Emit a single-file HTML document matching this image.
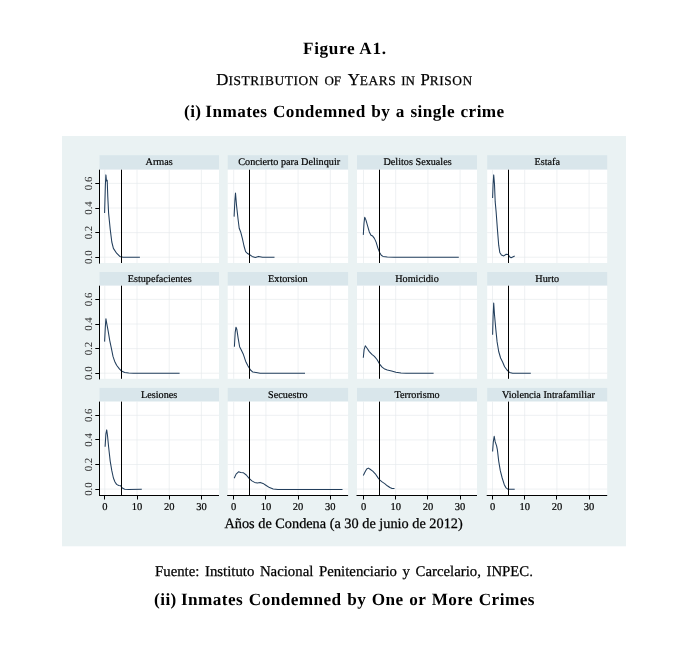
<!DOCTYPE html>
<html><head><meta charset="utf-8"><title>Figure A1</title>
<style>
html,body{margin:0;padding:0;background:#fff;}
body{width:700px;height:655px;overflow:hidden;position:relative;font-family:"Liberation Serif",serif;color:#000;text-rendering:geometricPrecision;}
.t{position:absolute;white-space:nowrap;line-height:1;}
svg{position:absolute;left:0;top:0;will-change:transform;}
.t,#t2{will-change:transform;}
svg text{font-family:"Liberation Serif",serif;text-rendering:geometricPrecision;}
svg g text{stroke:#000;stroke-width:0.2px;}
</style></head><body>
<div class="t" id="t1" style="top:40.1px;font-size:17.2px;font-weight:bold;left:302.8px;letter-spacing:0.66px;">Figure A1.</div>
<div id="t2" style="position:absolute;left:0;top:69.5px;width:700px;height:20px;white-space:nowrap;-webkit-text-stroke:0.25px #000;"><span id="w1" style="position:absolute;left:216.3px;top:0;font-size:16.8px;line-height:20px;">D<span style="font-size:13.4px;letter-spacing:0.60px">ISTRIBUTION</span></span><span id="w2" style="position:absolute;left:324.4px;top:0;font-size:16.8px;line-height:20px;"><span style="font-size:13.0px;letter-spacing:0.00px">OF</span></span><span id="w3" style="position:absolute;left:347.7px;top:0;font-size:16.8px;line-height:20px;">Y<span style="font-size:13.4px;letter-spacing:0.52px">EARS</span></span><span id="w4" style="position:absolute;left:401.2px;top:0;font-size:16.8px;line-height:20px;"><span style="font-size:13.0px;letter-spacing:0.00px">IN</span></span><span id="w5" style="position:absolute;left:420.4px;top:0;font-size:16.8px;line-height:20px;">P<span style="font-size:13.4px;letter-spacing:0.58px">RISON</span></span></div>
<div class="t" id="t3" style="top:102.9px;font-size:17.2px;font-weight:bold;left:184.1px;letter-spacing:0.42px;word-spacing:0.87px;"><span style="word-spacing:-0.9px">(i) </span>Inmates Condemned by a single crime</div>
<div class="t" id="t4" style="top:564.7px;font-size:14.8px;left:155.0px;word-spacing:1.9px;-webkit-text-stroke:0.25px #000;">Fuente: Instituto Nacional Penitenciario y Carcelario, INPEC.</div>
<div class="t" id="t5" style="top:591.2px;font-size:17.2px;font-weight:bold;left:153.8px;letter-spacing:0.44px;word-spacing:0.86px;"><span style="word-spacing:-0.6px">(ii) </span>Inmates Condemned by One or More Crimes</div>
<svg width="700" height="655" viewBox="0 0 700 655">
<rect x="62" y="136" width="564" height="410.29999999999995" fill="#eaf2f3"/>
<g>
<rect x="99.5" y="155.2" width="119.5" height="14.5" fill="#d9e6eb"/>
<rect x="99.5" y="169.7" width="119.5" height="93.3" fill="#fff"/>
<path d="M104.8 169.7V263.0M137.0 169.7V263.0M169.2 169.7V263.0M201.4 169.7V263.0M99.5 257.2H219.0M99.5 232.6H219.0M99.5 208.0H219.0M99.5 183.4H219.0" stroke="#e4eaed" stroke-width="0.65" fill="none"/>
<text x="159.2" y="165.2" font-size="10.2" text-anchor="middle" fill="#000">Armas</text>
<path d="M104.6 213.1 L105.4 184.2 L105.9 174.9 L106.5 181.0 L107.2 180.2 L107.8 197.1 L108.6 213.1 L110.2 229.1 L111.8 242.0 L113.4 248.4 L116.6 253.2 L119.8 256.4 L123.1 257.2 L139.9 257.2" stroke="#223e5c" stroke-width="1.05" fill="none" stroke-linejoin="round"/>
<path d="M121.5 169.7V263.0" stroke="#000" stroke-width="1"/>
<text transform="translate(91.9 257.2) rotate(-90)" font-size="10.8" text-anchor="middle" fill="#2a2a2a" style="stroke:none">0.0</text>
<text transform="translate(91.9 232.6) rotate(-90)" font-size="10.8" text-anchor="middle" fill="#2a2a2a" style="stroke:none">0.2</text>
<text transform="translate(91.9 208.0) rotate(-90)" font-size="10.8" text-anchor="middle" fill="#2a2a2a" style="stroke:none">0.4</text>
<text transform="translate(91.9 183.4) rotate(-90)" font-size="10.8" text-anchor="middle" fill="#2a2a2a" style="stroke:none">0.6</text>
<path d="M99.5 169.7V263.6M95.3 257.5H99.5M95.3 232.5H99.5M95.3 208.5H99.5M95.3 183.5H99.5" stroke="#000" stroke-width="1" fill="none"/>
</g>
<g>
<rect x="227.7" y="155.2" width="120.4" height="14.5" fill="#d9e6eb"/>
<rect x="227.7" y="169.7" width="120.4" height="93.3" fill="#fff"/>
<path d="M233.7 169.7V263.0M265.9 169.7V263.0M298.1 169.7V263.0M330.3 169.7V263.0M227.7 257.2H348.1M227.7 232.6H348.1M227.7 208.0H348.1M227.7 183.4H348.1" stroke="#e4eaed" stroke-width="0.65" fill="none"/>
<text x="289.2" y="165.2" font-size="10.2" text-anchor="middle" fill="#000">Concierto para Delinquir</text>
<path d="M234.1 216.6 L234.9 200.3 L235.5 193.1 L236.5 205.1 L238.1 219.5 L239.2 228.3 L240.8 232.3 L242.4 238.7 L244.0 246.0 L245.6 251.6 L247.2 253.2 L249.7 254.8 L252.1 256.4 L255.3 257.5 L258.5 256.4 L262.5 257.2 L274.5 257.2" stroke="#223e5c" stroke-width="1.05" fill="none" stroke-linejoin="round"/>
<path d="M249.5 169.7V263.0" stroke="#000" stroke-width="1"/>
</g>
<g>
<rect x="357.0" y="155.2" width="120.0" height="14.5" fill="#d9e6eb"/>
<rect x="357.0" y="169.7" width="120.0" height="93.3" fill="#fff"/>
<path d="M363.5 169.7V263.0M395.7 169.7V263.0M427.9 169.7V263.0M460.1 169.7V263.0M357.0 257.2H477.0M357.0 232.6H477.0M357.0 208.0H477.0M357.0 183.4H477.0" stroke="#e4eaed" stroke-width="0.65" fill="none"/>
<text x="417.6" y="165.2" font-size="10.2" text-anchor="middle" fill="#000">Delitos Sexuales</text>
<path d="M363.3 234.9 L364.0 223.3 L364.7 217.3 L365.9 219.9 L367.6 225.9 L369.3 231.9 L371.0 235.3 L372.7 236.1 L374.4 238.4 L376.1 242.1 L377.9 248.1 L379.6 252.4 L381.3 255.3 L383.0 256.4 L387.3 256.9 L394.1 257.2 L458.8 257.2" stroke="#223e5c" stroke-width="1.05" fill="none" stroke-linejoin="round"/>
<path d="M379.5 169.7V263.0" stroke="#000" stroke-width="1"/>
</g>
<g>
<rect x="487.2" y="155.2" width="120.0" height="14.5" fill="#d9e6eb"/>
<rect x="487.2" y="169.7" width="120.0" height="93.3" fill="#fff"/>
<path d="M492.5 169.7V263.0M524.7 169.7V263.0M556.9 169.7V263.0M589.1 169.7V263.0M487.2 257.2H607.2M487.2 232.6H607.2M487.2 208.0H607.2M487.2 183.4H607.2" stroke="#e4eaed" stroke-width="0.65" fill="none"/>
<text x="547.2" y="165.2" font-size="10.2" text-anchor="middle" fill="#000">Estafa</text>
<path d="M492.6 197.9 L493.1 184.2 L493.7 174.9 L494.5 184.2 L495.2 201.9 L496.1 211.5 L497.4 229.1 L498.7 245.2 L499.8 252.4 L501.4 255.1 L503.8 255.9 L506.2 254.3 L508.3 254.5 L509.5 256.7 L511.1 257.7 L512.7 257.0 L514.7 256.1" stroke="#223e5c" stroke-width="1.05" fill="none" stroke-linejoin="round"/>
<path d="M508.5 169.7V263.0" stroke="#000" stroke-width="1"/>
</g>
<g>
<rect x="99.5" y="272.0" width="119.5" height="13.7" fill="#d9e6eb"/>
<rect x="99.5" y="285.7" width="119.5" height="93.1" fill="#fff"/>
<path d="M104.8 285.7V378.8M137.0 285.7V378.8M169.2 285.7V378.8M201.4 285.7V378.8M99.5 373.2H219.0M99.5 348.6H219.0M99.5 324.0H219.0M99.5 299.4H219.0" stroke="#e4eaed" stroke-width="0.65" fill="none"/>
<text x="159.7" y="282.0" font-size="10.2" text-anchor="middle" fill="#000">Estupefacientes</text>
<path d="M104.6 341.6 L105.3 327.5 L105.9 318.7 L106.9 324.3 L108.1 330.7 L109.7 340.3 L111.4 348.3 L113.0 356.4 L114.6 361.2 L116.6 365.2 L119.0 368.4 L121.5 371.1 L124.7 372.4 L128.7 373.0 L133.5 373.3 L179.6 373.3" stroke="#223e5c" stroke-width="1.05" fill="none" stroke-linejoin="round"/>
<path d="M121.5 285.7V378.8" stroke="#000" stroke-width="1"/>
<text transform="translate(91.9 373.2) rotate(-90)" font-size="10.8" text-anchor="middle" fill="#2a2a2a" style="stroke:none">0.0</text>
<text transform="translate(91.9 348.6) rotate(-90)" font-size="10.8" text-anchor="middle" fill="#2a2a2a" style="stroke:none">0.2</text>
<text transform="translate(91.9 324.0) rotate(-90)" font-size="10.8" text-anchor="middle" fill="#2a2a2a" style="stroke:none">0.4</text>
<text transform="translate(91.9 299.4) rotate(-90)" font-size="10.8" text-anchor="middle" fill="#2a2a2a" style="stroke:none">0.6</text>
<path d="M99.5 285.7V379.4M95.3 373.5H99.5M95.3 348.5H99.5M95.3 324.5H99.5M95.3 299.5H99.5" stroke="#000" stroke-width="1" fill="none"/>
</g>
<g>
<rect x="227.7" y="272.0" width="120.4" height="13.7" fill="#d9e6eb"/>
<rect x="227.7" y="285.7" width="120.4" height="93.1" fill="#fff"/>
<path d="M233.7 285.7V378.8M265.9 285.7V378.8M298.1 285.7V378.8M330.3 285.7V378.8M227.7 373.2H348.1M227.7 348.6H348.1M227.7 324.0H348.1M227.7 299.4H348.1" stroke="#e4eaed" stroke-width="0.65" fill="none"/>
<text x="287.9" y="282.0" font-size="10.2" text-anchor="middle" fill="#000">Extorsion</text>
<path d="M234.4 346.7 L235.2 332.3 L236.0 327.2 L236.8 329.1 L238.1 337.9 L239.6 346.7 L241.3 349.9 L243.2 353.9 L245.6 361.2 L248.0 366.0 L250.5 370.0 L252.9 372.1 L256.1 372.4 L260.1 373.3 L305.0 373.3" stroke="#223e5c" stroke-width="1.05" fill="none" stroke-linejoin="round"/>
<path d="M249.5 285.7V378.8" stroke="#000" stroke-width="1"/>
</g>
<g>
<rect x="357.0" y="272.0" width="120.0" height="13.7" fill="#d9e6eb"/>
<rect x="357.0" y="285.7" width="120.0" height="93.1" fill="#fff"/>
<path d="M363.5 285.7V378.8M395.7 285.7V378.8M427.9 285.7V378.8M460.1 285.7V378.8M357.0 373.2H477.0M357.0 348.6H477.0M357.0 324.0H477.0M357.0 299.4H477.0" stroke="#e4eaed" stroke-width="0.65" fill="none"/>
<text x="417.0" y="282.0" font-size="10.2" text-anchor="middle" fill="#000">Homicidio</text>
<path d="M363.3 357.8 L364.1 349.6 L365.3 345.8 L367.1 348.2 L369.3 351.6 L371.9 354.4 L374.4 356.4 L377.0 359.5 L379.6 364.1 L382.1 367.2 L384.7 369.1 L387.3 370.1 L391.6 371.0 L395.9 372.2 L401.0 372.9 L406.1 373.2 L433.6 373.2" stroke="#223e5c" stroke-width="1.05" fill="none" stroke-linejoin="round"/>
<path d="M379.5 285.7V378.8" stroke="#000" stroke-width="1"/>
</g>
<g>
<rect x="487.2" y="272.0" width="120.0" height="13.7" fill="#d9e6eb"/>
<rect x="487.2" y="285.7" width="120.0" height="93.1" fill="#fff"/>
<path d="M492.5 285.7V378.8M524.7 285.7V378.8M556.9 285.7V378.8M589.1 285.7V378.8M487.2 373.2H607.2M487.2 348.6H607.2M487.2 324.0H607.2M487.2 299.4H607.2" stroke="#e4eaed" stroke-width="0.65" fill="none"/>
<text x="547.2" y="282.0" font-size="10.2" text-anchor="middle" fill="#000">Hurto</text>
<path d="M492.6 334.7 L493.1 316.3 L493.7 303.1 L494.5 314.7 L495.8 329.1 L497.1 341.9 L498.7 351.5 L500.6 358.0 L502.6 362.0 L504.6 366.8 L507.0 370.0 L509.5 372.4 L512.7 373.3 L530.8 373.3" stroke="#223e5c" stroke-width="1.05" fill="none" stroke-linejoin="round"/>
<path d="M508.5 285.7V378.8" stroke="#000" stroke-width="1"/>
</g>
<g>
<rect x="99.5" y="387.9" width="119.5" height="13.7" fill="#d9e6eb"/>
<rect x="99.5" y="401.6" width="119.5" height="93.5" fill="#fff"/>
<path d="M104.8 401.6V495.1M137.0 401.6V495.1M169.2 401.6V495.1M201.4 401.6V495.1M99.5 489.1H219.0M99.5 464.5H219.0M99.5 439.9H219.0M99.5 415.3H219.0" stroke="#e4eaed" stroke-width="0.65" fill="none"/>
<text x="159.2" y="397.9" font-size="10.2" text-anchor="middle" fill="#000">Lesiones</text>
<path d="M105.1 446.7 L105.9 433.9 L106.7 429.9 L107.5 435.5 L108.6 446.7 L110.2 461.1 L111.8 470.7 L113.4 478.0 L115.0 482.0 L116.6 484.4 L118.7 485.5 L120.7 485.7 L122.3 488.1 L124.7 489.2 L128.7 489.5 L141.8 489.3" stroke="#223e5c" stroke-width="1.05" fill="none" stroke-linejoin="round"/>
<path d="M121.5 401.6V495.1" stroke="#000" stroke-width="1"/>
<text transform="translate(91.9 489.1) rotate(-90)" font-size="10.8" text-anchor="middle" fill="#2a2a2a" style="stroke:none">0.0</text>
<text transform="translate(91.9 464.5) rotate(-90)" font-size="10.8" text-anchor="middle" fill="#2a2a2a" style="stroke:none">0.2</text>
<text transform="translate(91.9 439.9) rotate(-90)" font-size="10.8" text-anchor="middle" fill="#2a2a2a" style="stroke:none">0.4</text>
<text transform="translate(91.9 415.3) rotate(-90)" font-size="10.8" text-anchor="middle" fill="#2a2a2a" style="stroke:none">0.6</text>
<path d="M99.5 401.6V495.7M95.3 489.5H99.5M95.3 464.5H99.5M95.3 439.5H99.5M95.3 415.5H99.5" stroke="#000" stroke-width="1" fill="none"/>
<text x="104.8" y="509.6" font-size="10.5" text-anchor="middle" fill="#000">0</text>
<text x="137.0" y="509.6" font-size="10.5" text-anchor="middle" fill="#000">10</text>
<text x="169.2" y="509.6" font-size="10.5" text-anchor="middle" fill="#000">20</text>
<text x="201.4" y="509.6" font-size="10.5" text-anchor="middle" fill="#000">30</text>
<path d="M99.0 495.5H219.0M104.5 495.5v4M137.5 495.5v4M169.5 495.5v4M201.5 495.5v4" stroke="#000" stroke-width="1" fill="none"/>
</g>
<g>
<rect x="227.7" y="387.9" width="120.4" height="13.7" fill="#d9e6eb"/>
<rect x="227.7" y="401.6" width="120.4" height="93.5" fill="#fff"/>
<path d="M233.7 401.6V495.1M265.9 401.6V495.1M298.1 401.6V495.1M330.3 401.6V495.1M227.7 489.1H348.1M227.7 464.5H348.1M227.7 439.9H348.1M227.7 415.3H348.1" stroke="#e4eaed" stroke-width="0.65" fill="none"/>
<text x="287.9" y="397.9" font-size="10.2" text-anchor="middle" fill="#000">Secuestro</text>
<path d="M234.2 478.3 L236.1 474.1 L238.5 471.8 L240.7 472.6 L243.5 472.8 L246.3 475.0 L249.1 478.3 L251.9 480.9 L254.6 482.4 L257.4 483.0 L260.2 482.4 L263.0 483.4 L265.8 485.2 L269.5 487.6 L273.2 488.9 L277.9 489.5 L342.5 489.5" stroke="#223e5c" stroke-width="1.05" fill="none" stroke-linejoin="round"/>
<path d="M249.5 401.6V495.1" stroke="#000" stroke-width="1"/>
<text x="233.7" y="509.6" font-size="10.5" text-anchor="middle" fill="#000">0</text>
<text x="265.9" y="509.6" font-size="10.5" text-anchor="middle" fill="#000">10</text>
<text x="298.1" y="509.6" font-size="10.5" text-anchor="middle" fill="#000">20</text>
<text x="330.3" y="509.6" font-size="10.5" text-anchor="middle" fill="#000">30</text>
<path d="M227.2 495.5H348.1M233.5 495.5v4M265.5 495.5v4M298.5 495.5v4M330.5 495.5v4" stroke="#000" stroke-width="1" fill="none"/>
</g>
<g>
<rect x="357.0" y="387.9" width="120.0" height="13.7" fill="#d9e6eb"/>
<rect x="357.0" y="401.6" width="120.0" height="93.5" fill="#fff"/>
<path d="M363.5 401.6V495.1M395.7 401.6V495.1M427.9 401.6V495.1M460.1 401.6V495.1M357.0 489.1H477.0M357.0 464.5H477.0M357.0 439.9H477.0M357.0 415.3H477.0" stroke="#e4eaed" stroke-width="0.65" fill="none"/>
<text x="417.1" y="397.9" font-size="10.2" text-anchor="middle" fill="#000">Terrorismo</text>
<path d="M363.3 475.5 L365.0 472.1 L366.7 469.0 L368.4 468.1 L370.1 469.3 L372.7 471.1 L375.3 473.8 L377.9 477.6 L379.6 479.8 L382.1 481.9 L384.7 483.6 L387.3 485.8 L389.9 487.5 L392.1 488.4 L394.5 488.4" stroke="#223e5c" stroke-width="1.05" fill="none" stroke-linejoin="round"/>
<path d="M379.5 401.6V495.1" stroke="#000" stroke-width="1"/>
<text x="363.5" y="509.6" font-size="10.5" text-anchor="middle" fill="#000">0</text>
<text x="395.7" y="509.6" font-size="10.5" text-anchor="middle" fill="#000">10</text>
<text x="427.9" y="509.6" font-size="10.5" text-anchor="middle" fill="#000">20</text>
<text x="460.1" y="509.6" font-size="10.5" text-anchor="middle" fill="#000">30</text>
<path d="M356.5 495.5H477.0M363.5 495.5v4M395.5 495.5v4M427.5 495.5v4M460.5 495.5v4" stroke="#000" stroke-width="1" fill="none"/>
</g>
<g>
<rect x="487.2" y="387.9" width="120.0" height="13.7" fill="#d9e6eb"/>
<rect x="487.2" y="401.6" width="120.0" height="93.5" fill="#fff"/>
<path d="M492.5 401.6V495.1M524.7 401.6V495.1M556.9 401.6V495.1M589.1 401.6V495.1M487.2 489.1H607.2M487.2 464.5H607.2M487.2 439.9H607.2M487.2 415.3H607.2" stroke="#e4eaed" stroke-width="0.65" fill="none"/>
<text x="548.4" y="397.9" font-size="10.2" text-anchor="middle" fill="#000">Violencia Intrafamiliar</text>
<path d="M492.6 451.5 L493.3 441.9 L494.2 436.3 L495.2 441.9 L496.6 445.9 L497.4 449.9 L498.7 461.1 L500.3 470.7 L502.2 478.0 L504.2 484.4 L505.8 487.6 L507.8 489.2 L514.7 489.3" stroke="#223e5c" stroke-width="1.05" fill="none" stroke-linejoin="round"/>
<path d="M508.5 401.6V495.1" stroke="#000" stroke-width="1"/>
<text x="492.5" y="509.6" font-size="10.5" text-anchor="middle" fill="#000">0</text>
<text x="524.7" y="509.6" font-size="10.5" text-anchor="middle" fill="#000">10</text>
<text x="556.9" y="509.6" font-size="10.5" text-anchor="middle" fill="#000">20</text>
<text x="589.1" y="509.6" font-size="10.5" text-anchor="middle" fill="#000">30</text>
<path d="M486.7 495.5H607.2M492.5 495.5v4M524.5 495.5v4M556.5 495.5v4M589.5 495.5v4" stroke="#000" stroke-width="1" fill="none"/>
</g>
<text id="xt" x="343.6" y="527.8" font-size="14.3" text-anchor="middle" fill="#000" stroke="#000" stroke-width="0.25">Años de Condena (a 30 de junio de 2012)</text>
</svg>
</body></html>
